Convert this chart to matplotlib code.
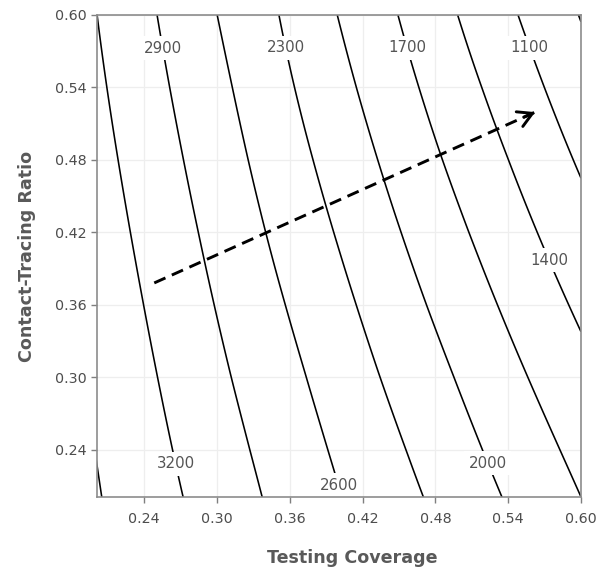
import numpy as np
import matplotlib
matplotlib.use("Agg")
import matplotlib.pyplot as plt

# ---- data: x position of each contour level at given y rows ----
y_rows = [0.20, 0.24, 0.30, 0.36, 0.42, 0.48, 0.54, 0.60]
nan = np.nan
levels = [3500, 3200, 2900, 2600, 2300, 2000, 1700, 1400, 1100, 800]
x_3500 = [0.204, nan, nan, nan, nan, nan, nan, nan]
x_3200 = [0.272, 0.264, 0.2505, 0.239, 0.2285, 0.219, 0.209, 0.201]
x_2900 = [0.3375, 0.327, 0.311, 0.298, 0.285, 0.272, 0.261, 0.2505]
x_2600 = [0.403, 0.392, 0.373, 0.357, 0.340, 0.325, 0.313, 0.300]
x_2300 = [0.470, 0.457, 0.433, 0.4155, 0.396, 0.379, 0.364, 0.351]
x_2000 = [0.535, 0.519, 0.495, 0.473, 0.452, 0.432, 0.415, 0.399]
x_1700 = [0.600, 0.584, 0.555, 0.532, 0.507, 0.485, 0.467, 0.449]
x_1400 = [nan, nan, nan, 0.591, 0.564, 0.540, 0.519, 0.498]
x_1100 = [nan, nan, nan, nan, nan, 0.593, 0.570, 0.548]
x_800 = [nan, nan, nan, nan, nan, nan, nan, 0.598]
level_x = [x_3500, x_3200, x_2900, x_2600, x_2300, x_2000, x_1700, x_1400, x_1100, x_800]

label_x = [0.2559, 0.3537, 0.456, 0.5566, 0.5718, 0.2647, 0.3988, 0.522]
label_y = [0.5725, 0.5725, 0.5725, 0.5725, 0.3963, 0.2285, 0.2103, 0.2285]

arrow_x = [0.2482, 0.5622]
arrow_y = [0.3782, 0.5196]

x_ticks = [0.24, 0.30, 0.36, 0.42, 0.48, 0.54, 0.60]
y_ticks = [0.24, 0.30, 0.36, 0.42, 0.48, 0.54, 0.60]
x_title = "Testing Coverage"
y_title = "Contact-Tracing Ratio"

# ---- build the surface the contour routine needs from the read positions ----
xg = np.linspace(0.2, 0.6, 401)
Z = []
for i in range(len(y_rows)):
    pts = [(lx[i], lv) for lx, lv in zip(level_x, levels) if not np.isnan(lx[i])]
    pts.sort()
    xs = np.array([p[0] for p in pts])
    zs = np.array([p[1] for p in pts], dtype=float)
    row = np.interp(xg, xs, zs)
    sl = (zs[1] - zs[0]) / (xs[1] - xs[0])
    sr = (zs[-1] - zs[-2]) / (xs[-1] - xs[-2])
    row = np.where(xg < xs[0], zs[0] + (xg - xs[0]) * sl, row)
    row = np.where(xg > xs[-1], zs[-1] + (xg - xs[-1]) * sr, row)
    Z.append(row)
Z = np.array(Z)
# smooth along y (least-squares cubic per column) so the lines have no kinks
yg = np.linspace(0.2, 0.6, 201)
coef = np.polyfit(np.array(y_rows), Z, 3)
Zs = np.array([np.polyval(coef[:, j], yg) for j in range(len(xg))]).T
X, Y = np.meshgrid(xg, yg)

# ---- figure ----
W, H = 597, 572
fig = plt.figure(figsize=(W / 100, H / 100), dpi=100)
ax = fig.add_axes([97 / W, 1 - 497 / H, (581 - 97) / W, (497 - 15) / H])

grid_c = "#eeeeee"
for t in x_ticks:
    ax.axvline(t, color=grid_c, lw=0.9, zorder=0)
for t in y_ticks:
    ax.axhline(t, color=grid_c, lw=0.9, zorder=0)

cs = ax.contour(X, Y, Zs, levels=sorted(levels), colors="black", linewidths=1.15, zorder=1.5)

# contour labels (horizontal, with a white gap behind)
lab_pos = [(x, y) for x, y in zip(label_x, label_y)]
texts = cs.clabel(manual=lab_pos, inline=False, fmt="%d", fontsize=10.8, colors="#555555")
for t in texts:
    t.set_rotation(0)
    t.set_zorder(2.2)
    t.set_bbox(dict(boxstyle="square,pad=0.3", fc="white", ec="none"))

# dashed arrow
ax.plot(arrow_x, arrow_y, color="black", lw=2.1, dashes=(4.2, 2.4),
        dash_capstyle="butt", zorder=5)
dx = arrow_x[1] - arrow_x[0]
dy = arrow_y[1] - arrow_y[0]
ax.annotate("", xy=(arrow_x[1], arrow_y[1]),
            xytext=(arrow_x[1] - dx * 0.03, arrow_y[1] - dy * 0.03),
            arrowprops=dict(arrowstyle="->,head_length=0.6,head_width=0.34",
                            color="black", lw=2.1, mutation_scale=17,
                            shrinkA=0, shrinkB=0), zorder=6)

ax.set_xlim(0.201, 0.600)
ax.set_ylim(0.201, 0.600)
ax.set_xticks(x_ticks)
ax.set_yticks(y_ticks)
ax.set_xticklabels([f"{v:.2f}" for v in x_ticks])
ax.set_yticklabels([f"{v:.2f}" for v in y_ticks])
ax.tick_params(axis="both", colors="#7f7f7f", labelcolor="#4d4d4d", labelsize=10.3,
               length=4, width=1)
ax.tick_params(axis="x", pad=7)
ax.tick_params(axis="y", pad=3.5)
for s in ax.spines.values():
    s.set_color("#8c8c8c")
    s.set_linewidth(1.2)
    s.set_zorder(3)

ax.set_xlabel(x_title, fontsize=12.6, fontweight="bold", color="#595959")
ax.set_ylabel(y_title, fontsize=12.6, fontweight="bold", color="#595959")
ax.xaxis.set_label_coords(0.527, -0.108)
ax.yaxis.set_label_coords(-0.126, 0.5)

fig.savefig("out.png", dpi=100)
